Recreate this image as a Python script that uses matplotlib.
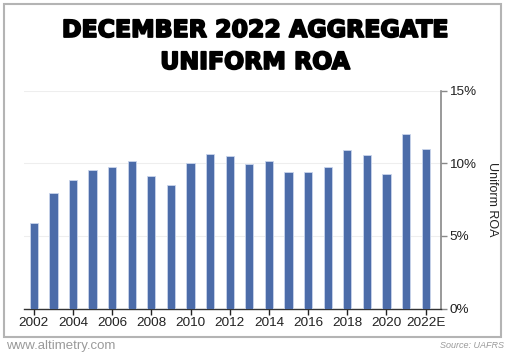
import matplotlib.pyplot as plt
import matplotlib.patheffects as pe
from matplotlib.patches import Rectangle
from matplotlib.ticker import FuncFormatter

# data
years = [str(y) for y in range(2002, 2022)] + ["2022E"]
roa = [5.87, 7.93, 8.85, 9.54, 9.77, 10.16, 9.10, 8.48, 10.0, 10.64, 10.50,
       9.97, 10.14, 9.38, 9.38, 9.77, 10.94, 10.55, 9.28, 12.0, 11.0]
yticks = [0, 5, 10, 15]
tick_labels = ["2002", "2004", "2006", "2008", "2010", "2012", "2014",
               "2016", "2018", "2020", "2022E"]

BAR = "#4c6ca9"
FONT = "Liberation Sans"

W, H = 510, 358
fig = plt.figure(figsize=(W / 100, H / 100), dpi=100)

# outer frame
fig.patches.append(Rectangle((4 / W, 1 - 337 / H), 497 / W, 333 / H,
                             transform=fig.transFigure, fill=False,
                             edgecolor="#b4b4b4", linewidth=1.5))

heavy = [pe.withStroke(linewidth=1.3, foreground="black")]
fig.text(0.5, 1 - 30 / H, "DECEMBER 2022 AGGREGATE", ha="center", va="center",
         fontsize=17, fontweight="black", family="DejaVu Sans", path_effects=heavy)
fig.text(0.5, 1 - 62 / H, "UNIFORM ROA", ha="center", va="center",
         fontsize=17, fontweight="black", family="DejaVu Sans", path_effects=heavy)

ax = fig.add_axes([24 / W, 1 - 308.5 / H, (440.7 - 24) / W, (308.5 - 90.7) / H])
x = list(range(len(years)))
ax.bar(x, roa, width=0.42, color=BAR, edgecolor="#c9d5ec", linewidth=0.6, zorder=3)
ax.set_xlim(-0.5, 20.77)
ax.set_ylim(0, 15)

ax.yaxis.tick_right()
ax.yaxis.set_label_position("right")
ax.set_yticks(yticks)
ax.yaxis.set_major_formatter(FuncFormatter(lambda v, p: f"{v:.0f}%"))
ax.set_xticks(x[::2])
ax.set_xticklabels(tick_labels)
ax.grid(axis="y", color="#eeeeee", linewidth=0.8, zorder=0)

for s in ["top", "left"]:
    ax.spines[s].set_visible(False)
ax.spines["right"].set_color("#888888")
ax.spines["right"].set_linewidth(1.2)
ax.spines["bottom"].set_color("#333333")
ax.spines["bottom"].set_linewidth(1.0)
ax.tick_params(axis="both", labelsize=9.7, colors="#222222", length=4, width=1,
               pad=2)
ax.tick_params(axis="y", colors="#888888", labelcolor="#222222")
for lab in ax.get_xticklabels() + ax.get_yticklabels():
    lab.set_family(FONT)
ax.set_ylabel("Uniform ROA", rotation=270, labelpad=16, fontsize=9,
              family=FONT, color="#222222")

fig.text(6 / W, 1 - 346 / H, "www.altimetry.com", ha="left", va="center",
         fontsize=9.5, color="#9a9a9a", family=FONT)
fig.text(504 / W, 1 - 346 / H, "Source: UAFRS", ha="right", va="center",
         fontsize=6.5, color="#9a9a9a", style="italic", family=FONT)

fig.savefig("out.png", dpi=100)
